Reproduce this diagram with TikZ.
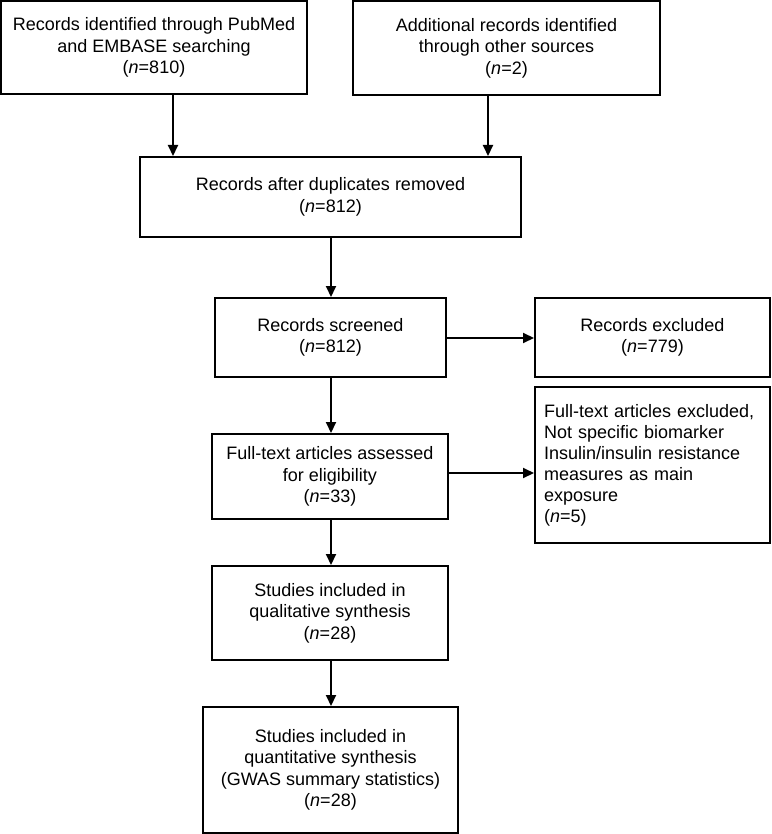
\documentclass[tikz,border=0pt]{standalone}
\usepackage{fontspec}
\setmainfont{Liberation Sans}
\usetikzlibrary{arrows.meta}
\begin{document}
\begin{tikzpicture}[x=1pt,y=1pt,
  box/.style={draw=black, line width=2pt, inner sep=0pt, align=center,
    font=\fontsize{18}{21.5}\selectfont},
  leftbox/.style={draw=black, line width=2pt, inner xsep=9pt, inner ysep=0pt,
    align=left, text width=217pt, font=\fontsize{18}{21}\selectfont},
  arr/.style={line width=2pt, -{Triangle[length=11pt,width=10pt]}}]
\useasboundingbox (0,0) rectangle (771,-834);
\node[box, minimum width=306pt, minimum height=93pt] (b1) at (154,-47.5)
  {Records identified through PubMed\\and EMBASE searching\\(\textit{n}=810)};
\node[box, minimum width=307pt, minimum height=94pt] (b2) at (506.5,-48)
  {Additional records identified\\through other sources\\(\textit{n}=2)};
\node[box, minimum width=381pt, minimum height=80pt] (b3) at (330.5,-197)
  {Records after duplicates removed\\(\textit{n}=812)};
\node[box, minimum width=231pt, minimum height=79pt] (b4) at (330.5,-337.5)
  {Records screened\\(\textit{n}=812)};
\node[box, minimum width=235pt, minimum height=79pt] (e1) at (652.5,-337.5)
  {Records excluded\\(\textit{n}=779)};
\node[box, minimum width=236pt, minimum height=85pt] (b5) at (330,-476.5)
  {Full-text articles assessed\\for eligibility\\(\textit{n}=33)};
\node[leftbox, minimum height=156pt] (e2) at (652.5,-465)
  {Full-text articles excluded,\\Not specific biomarker\\Insulin/insulin resistance\\measures as main\\exposure\\(\textit{n}=5)};
\node[box, minimum width=236pt, minimum height=94pt] (b6) at (330,-613)
  {Studies included in\\qualitative synthesis\\(\textit{n}=28)};
\node[box, minimum width=255pt, minimum height=126pt] (b7) at (330.5,-770)
  {Studies included in\\quantitative synthesis\\(GWAS summary statistics)\\(\textit{n}=28)};
\coordinate (x1) at (173,0);
\coordinate (x2) at (488,0);
\coordinate (xm) at (331,0);
\coordinate (y4) at (0,-338);
\coordinate (y5) at (0,-473);
\draw[arr] (b1.south -| x1) -- (b3.north -| x1);
\draw[arr] (b2.south -| x2) -- (b3.north -| x2);
\draw[arr] (b3.south -| xm) -- (b4.north -| xm);
\draw[arr] (b4.east |- y4) -- (e1.west |- y4);
\draw[arr] (b4.south -| xm) -- (b5.north -| xm);
\draw[arr] (b5.east |- y5) -- (e2.west |- y5);
\draw[arr] (b5.south -| xm) -- (b6.north -| xm);
\draw[arr] (b6.south -| xm) -- (b7.north -| xm);
\end{tikzpicture}
\end{document}
